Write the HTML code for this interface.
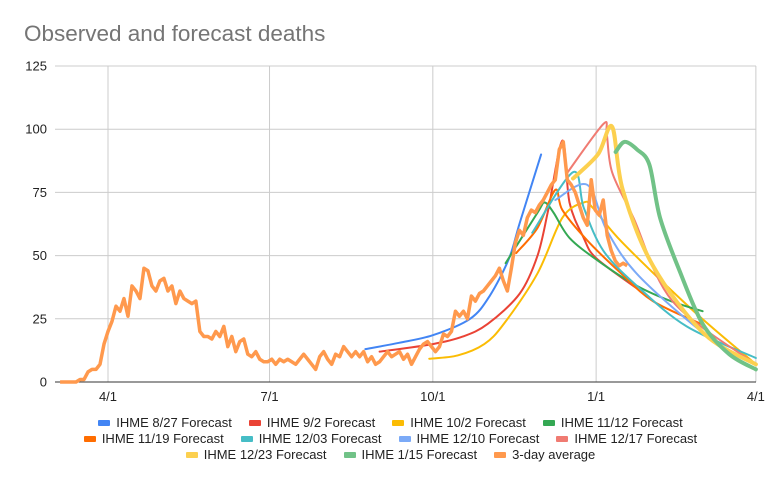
<!DOCTYPE html>
<html><head><meta charset="utf-8"><style>
body{margin:0;background:#fff;font-family:"Liberation Sans",sans-serif}
#wrap{position:relative;width:781px;height:486px;overflow:hidden}
.legend{position:absolute;left:0;width:781px;display:flex;justify-content:center;font-size:13px;color:#222}
.li{display:flex;align-items:center;margin:0 8.5px}
.sw{width:12px;height:6px;margin-right:6px;border-radius:1px}
</style></head><body>
<div id="wrap">
<svg id="svg" width="781" height="486" style="position:absolute;left:0;top:0">
<text x="24" y="41" font-size="22.5" fill="#757575" font-family="Liberation Sans">Observed and forecast deaths</text>
</svg>
<div class="legend" style="top:415px">
<div class="li"><span class="sw" style="background:#4285f4"></span>IHME 8/27 Forecast</div>
<div class="li"><span class="sw" style="background:#ea4335"></span>IHME 9/2 Forecast</div>
<div class="li"><span class="sw" style="background:#fbbc04"></span>IHME 10/2 Forecast</div>
<div class="li"><span class="sw" style="background:#34a853"></span>IHME 11/12 Forecast</div>
</div>
<div class="legend" style="top:431px">
<div class="li"><span class="sw" style="background:#ff6d01"></span>IHME 11/19 Forecast</div>
<div class="li"><span class="sw" style="background:#46bdc6"></span>IHME 12/03 Forecast</div>
<div class="li"><span class="sw" style="background:#7baaf7"></span>IHME 12/10 Forecast</div>
<div class="li"><span class="sw" style="background:#f07b72"></span>IHME 12/17 Forecast</div>
</div>
<div class="legend" style="top:447px">
<div class="li"><span class="sw" style="background:#fcd04f"></span>IHME 12/23 Forecast</div>
<div class="li"><span class="sw" style="background:#71c287"></span>IHME 1/15 Forecast</div>
<div class="li"><span class="sw" style="background:#ff994d"></span>3-day average</div>
</div>
</div>
<script>
const yTicks=[0,25,50,75,100,125];
const xTickDays=[0,91,183,275,365];
const xTickLabels=["4/1","7/1","10/1","1/1","4/1"];
const f0827Days=[145,164,183,204,215,226,232,244];
const f0827Vals=[13,15.5,18.5,25,34,49,63,90];
const f0902Days=[153,183,200,214,232,242,248,256,260,268,275,298];
const f0902Vals=[12,15,18,23,35,50,68,95.5,71,57,49,37];
const f1002Days=[181,197,212,223,242,256,268,273,290,330,365];
const f1002Vals=[9.2,10.5,15,23,43,65,71,69,55,28,7];
const f1112Days=[224,242,246,251,260,276,298,317,335];
const f1112Vals=[47,67,71,67,57,48,38,32,28];
const f1119Days=[230,242,252,256,270,289,307,334];
const f1119Vals=[51,61,76,68,56,43,32,23];
const f1203Days=[239,262,268,279,298,326,365];
const f1203Vals=[59,83,69,52,38,22,9.5];
const f1210Days=[252,270,281,299,338,365];
const f1210Vals=[72,78,60,42,18,7];
const f1217Days=[259,279,281,284,296,318,365];
const f1217Vals=[83,102,98,83,65,32,7];
const f1223Days=[262,276,284,290,307,336,365];
const f1223Vals=[80.5,90,101,76,46,19,7];
const f0115Days=[286,291,298,305,311,322,335,350,365];
const f0115Vals=[91,95,92,86,65,44,23,11,5];
const avgStartDay=-27;
const avgStepDays=2.25;
const avgVals=[0,0,0,0,0,1,1,4,5,5,7,15,20,24,30,28,33,26,38,36,33,45,44,38,36,40,41,36,38,31,36,33,32,31,32,20,18,18,17,20,18,22,14,18,12,16,17,11,10,12,9,8,8,9,7,9,8,9,8,7,9,11,9,7,5,10,12,9,7,11,10,14,12,10,12,10,12,8,10,7,8,10,12,10,11,12,9,11,7,10,13,15,16,14,12,14,19,18,20,28,26,28,25,34,32,35,36,38,40,42,45,40,36,45,55,60,58,65,68,67,70,72,75,78,80,92,95,80,78,75,70,65,62,80,68,66,72,58,52,48,46,47,46];

const svg=document.getElementById('svg');
const NS='http://www.w3.org/2000/svg';
const X=d=>108+d*1.775;
const Y=v=>382-v*2.528;
function el(tag,attrs){const e=document.createElementNS(NS,tag);for(const k in attrs)e.setAttribute(k,attrs[k]);svg.appendChild(e);return e;}
yTicks.forEach(t=>{
  const g=el('line',{x1:55,x2:756,y1:Y(t),y2:Y(t),stroke:t===0?'#333':'#ccc','stroke-width':1});
  
  
  const tx=el('text',{x:47,y:Y(t)+4.5,'text-anchor':'end','font-size':13,fill:'#222'});
  tx.textContent=t;
  
  
});
xTickDays.forEach((d,i)=>{
  const g=el('line',{x1:X(d),x2:X(d),y1:Y(125),y2:Y(0),stroke:'#ccc','stroke-width':1});
  
  
  const tx=el('text',{x:X(d),y:401,'text-anchor':'middle','font-size':13,fill:'#222'});
  tx.textContent=xTickLabels[i];
  
  
});
el('line',{x1:55,x2:756,y1:382,y2:382,stroke:'#333','stroke-width':1});
function smoothPath(pts){
  let d='M'+pts[0][0]+','+pts[0][1];
  for(let i=0;i<pts.length-1;i++){
    const p0=pts[Math.max(0,i-1)],p1=pts[i],p2=pts[i+1],p3=pts[Math.min(pts.length-1,i+2)];
    const t=0.16;
    const c1x=p1[0]+(p2[0]-p0[0])*t,c1y=p1[1]+(p2[1]-p0[1])*t;
    const c2x=p2[0]-(p3[0]-p1[0])*t,c2y=p2[1]-(p3[1]-p1[1])*t;
    d+=' C'+c1x+','+c1y+' '+c2x+','+c2y+' '+p2[0]+','+p2[1];
  }
  return d;
}
function line(days,vals,color,w,name){
  const pts=days.map((d,i)=>[X(d),Y(vals[i])]);
  const p=el('path',{d:smoothPath(pts),fill:'none',stroke:color,'stroke-width':w,'stroke-linejoin':'round','stroke-linecap':'round'});
  
  
}
line(f0827Days,f0827Vals,'#4285f4',2,'series-ihme-8-27');
line(f0902Days,f0902Vals,'#ea4335',2,'series-ihme-9-2');
line(f1002Days,f1002Vals,'#fbbc04',2,'series-ihme-10-2');
line(f1112Days,f1112Vals,'#34a853',2,'series-ihme-11-12');
line(f1119Days,f1119Vals,'#ff6d01',2,'series-ihme-11-19');
line(f1203Days,f1203Vals,'#46bdc6',2,'series-ihme-12-03');
line(f1210Days,f1210Vals,'#7baaf7',2,'series-ihme-12-10');
line(f1217Days,f1217Vals,'#f07b72',2,'series-ihme-12-17');
line(f1223Days,f1223Vals,'#fcd04f',4,'series-ihme-12-23');
line(f0115Days,f0115Vals,'#71c287',4,'series-ihme-1-15');
const avgDays=avgVals.map((v,i)=>avgStartDay+i*avgStepDays);
const ap=el('polyline',{points:avgDays.map((d,i)=>X(d)+','+Y(avgVals[i])).join(' '),fill:'none',stroke:'#ff994d','stroke-width':3.5,'stroke-linejoin':'round'});


</script>
</body></html>
